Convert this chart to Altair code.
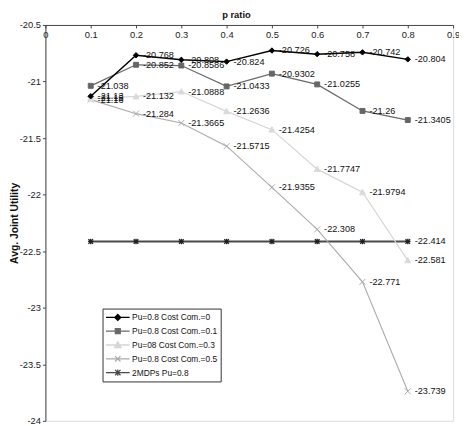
import altair as alt
import pandas as pd

# ---- data ----
p_ratio = [0.1, 0.2, 0.3, 0.4, 0.5, 0.6, 0.7, 0.8]
series_names = [
    "Pu=0.8 Cost Com.=0",
    "Pu=0.8 Cost Com.=0.1",
    "Pu=08 Cost Com.=0.3",
    "Pu=0.8 Cost Com.=0.5",
    "2MDPs Pu=0.8",
]
cost_0 = [-21.13, -20.768, -20.808, -20.824, -20.726, -20.758, -20.742, -20.804]
cost_01 = [-21.038, -20.852, -20.8586, -21.0433, -20.9302, -21.0255, -21.26, -21.3405]
cost_03 = [-21.15, -21.132, -21.0888, -21.2636, -21.4254, -21.7747, -21.9794, -22.581]
cost_05 = [-21.16, -21.284, -21.3665, -21.5715, -21.9355, -22.308, -22.771, -23.739]
mdps = [-22.414, -22.414, -22.414, -22.414, -22.414, -22.414, -22.414, -22.414]
all_values = [cost_0, cost_01, cost_03, cost_05, mdps]
# which points carry a value label
label_flags = [
    [1, 1, 1, 1, 1, 1, 1, 1],
    [1, 1, 1, 1, 1, 1, 1, 1],
    [1, 1, 1, 1, 1, 1, 1, 1],
    [1, 1, 1, 1, 1, 1, 1, 1],
    [0, 0, 0, 0, 0, 0, 0, 1],
]
x_ticks = [0, 0.1, 0.2, 0.3, 0.4, 0.5, 0.6, 0.7, 0.8, 0.9]
y_ticks = [-24, -23.5, -23, -22.5, -22, -21.5, -21, -20.5]

# ---- styles ----
line_colors = ["#000000", "#6a6a6a", "#d6d6d6", "#ababab", "#4a4a4a"]
marker_colors = ["#000000", "#666666", "#d9d9d9", "#a8a8a8", "#222222"]
line_widths = [1.5, 1.3, 1.2, 1.1, 2.0]
marker_paths = [
    "M0,-1L1,0L0,1L-1,0Z",
    "M-1,-1H1V1H-1Z",
    "M0,-1.1L1.1,0.9H-1.1Z",
    "M-1,-1L1,1M-1,1L1,-1",
    "M-1,-1L1,1M-1,1L1,-1M0,-1.2V1.2M-1.2,0H1.2",
]
marker_sizes = [30, 25, 30, 36, 22]
marker_strokes = [1, 1, 1, 1, 1.3]
legend_paths = [
    "M-2.4,0H2.4M0,-0.6L0.6,0L0,0.6L-0.6,0Z",
    "M-2.4,0H2.4M-0.5,-0.5H0.5V0.5H-0.5Z",
    "M-2.4,0H2.4M0,-0.65L0.65,0.55H-0.65Z",
    "M-2.4,0H2.4M-0.55,-0.55L0.55,0.55M-0.55,0.55L0.55,-0.55",
    "M-2.4,0H2.4M-0.55,-0.55L0.55,0.55M-0.55,0.55L0.55,-0.55M0,-0.65V0.65",
]

rows = []
for name, vals, flags in zip(series_names, all_values, label_flags):
    for p, v, f in zip(p_ratio, vals, flags):
        rows.append({"series": name, "p": p, "value": v, "label": str(v) if f else ""})
df = pd.DataFrame(rows)

FONT = "Liberation Sans"
W, H = 414, 402

x_enc = alt.X(
    "p:Q",
    scale=alt.Scale(domain=[0, 0.9], nice=False, zero=False),
    axis=alt.Axis(
        orient="bottom", offset=-H, title=None, values=x_ticks,
        labelExpr="'' + datum.value",
        tickSize=3, labelPadding=2, labelFontSize=9.5, labelFont=FONT,
        labelColor="#222222", domainColor="#444444", tickColor="#444444",
        labelFlush=False, labelOverlap=False, grid=False,
    ),
)
y_enc = alt.Y(
    "value:Q",
    scale=alt.Scale(domain=[-24, -20.5], nice=False, zero=False),
    axis=alt.Axis(
        title="Avg. Joint Utility", values=y_ticks,
        labelExpr="'' + datum.value",
        tickSize=3, labelPadding=2, labelFontSize=9.5, labelFont=FONT,
        labelColor="#222222", domainColor="#444444", tickColor="#444444",
        titleFont=FONT, titleFontSize=10.5, titleFontWeight="bold",
        titleColor="#111111", titlePadding=0, grid=False, labelFlush=False,
    ),
)

base = alt.Chart(df)
layers = []
# lines, drawn bottom series first so the black line is on top
for i in reversed(range(len(series_names))):
    layers.append(
        base.transform_filter(alt.datum.series == series_names[i])
        .mark_line(color=line_colors[i], strokeWidth=line_widths[i])
        .encode(x=x_enc, y=y_enc)
    )
for i in reversed(range(len(series_names))):
    layers.append(
        base.transform_filter(alt.datum.series == series_names[i])
        .mark_point(
            shape=marker_paths[i], size=marker_sizes[i], filled=True,
            fill=marker_colors[i], stroke=marker_colors[i],
            strokeWidth=marker_strokes[i], opacity=1,
        )
        .encode(x="p:Q", y="value:Q")
    )

labels = (
    base.transform_filter(alt.datum.label != "")
    .mark_text(align="left", baseline="middle", dx=7, fontSize=9.3, font=FONT, color="#111111")
    .encode(x="p:Q", y="value:Q", text="label:N")
)
layers.append(labels)

leg = alt.Legend(
    orient="none", legendX=58, legendY=288, title=None,
    symbolSize=100, symbolStrokeWidth=1.3, symbolOffset=6.5,
    labelFontSize=8.5, labelFont=FONT, labelColor="#111111", labelOffset=8.5,
    strokeColor="#333333", fillColor="white", padding=3, rowPadding=2,
)
legend_layer = (
    base.transform_filter("false")
    .mark_point(filled=True, opacity=1)
    .encode(
        x="p:Q",
        y="value:Q",
        shape=alt.Shape("series:N", scale=alt.Scale(domain=series_names, range=legend_paths), legend=leg, sort=series_names),
        fill=alt.Fill("series:N", scale=alt.Scale(domain=series_names, range=marker_colors), legend=leg, sort=series_names),
        stroke=alt.Stroke("series:N", scale=alt.Scale(domain=series_names, range=line_colors), legend=leg, sort=series_names),
    )
)
layers.append(legend_layer)

chart = (
    alt.layer(*layers)
    .properties(
        width=W, height=H,
        title=alt.TitleParams("p ratio", fontSize=9.5, fontWeight="bold", font=FONT, color="#111111",
                              dx=-13, offset=1, frame="group"),
        autosize=alt.AutoSizeParams(type="none"),
        padding={"left": 38, "top": 14, "right": 6, "bottom": 1},
    )
    .configure_view(stroke="#444444", strokeWidth=1)
    .configure(background="white")
)

chart.save("out.html", embed_options={"renderer": "svg", "actions": False})
